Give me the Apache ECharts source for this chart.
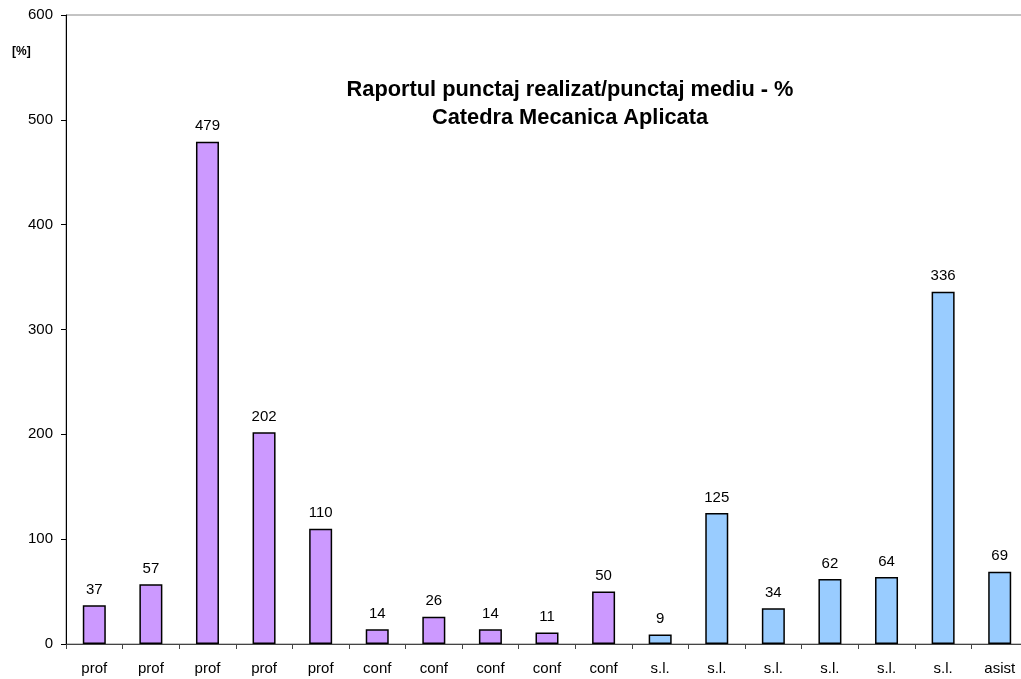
<!DOCTYPE html>
<html>
<head>
<meta charset="utf-8">
<script src="https://cdn.jsdelivr.net/npm/echarts@6/dist/echarts.min.js"></script>
<style>html,body{margin:0;padding:0;background:#fff;overflow:hidden}#c{width:1028px;height:679px}</style>
</head>
<body>
<div id="c"></div>
<script>
const categories = ['prof','prof','prof','prof','prof','conf','conf','conf','conf','conf','s.l.','s.l.','s.l.','s.l.','s.l.','s.l.','asist'];
const values = [37,57,479,202,110,14,26,14,11,50,9,125,34,62,64,336,69];
const yTicks = [0,100,200,300,400,500,600];
const titleLines = ['Raportul punctaj realizat/punctaj mediu - %','Catedra Mecanica Aplicata'];
const unitLabel = '[%]';

const purple = '#CC99FF', blue = '#99CCFF';
const FONT = 'Liberation Sans, Arial, sans-serif';
const chart = echarts.init(document.getElementById('c'), null, {renderer:'canvas'});
chart.setOption({
  animation:false,
  backgroundColor:'#fff',
  textStyle:{fontFamily:FONT},
  title:{
    text: titleLines.join('\n'),
    left: 565, top: 71, textAlign:'center',
    textStyle:{fontSize:21.8, fontWeight:'bold', color:'#000', lineHeight:28, fontFamily:FONT}
  },
  graphic:[{type:'text', left:12, top:46, style:{text:unitLabel, fontSize:12, fontWeight:'bold', fill:'#000', fontFamily:FONT}}],
  grid:{left:66, right:0, top:15, bottom:35, show:true, borderColor:'#888', borderWidth:1, backgroundColor:'transparent'},
  xAxis:{
    type:'category', data:categories,
    axisLine:{lineStyle:{color:'#444', width:1}},
    axisTick:{show:true, length:5, lineStyle:{color:'#444'}},
    axisLabel:{color:'#000', fontSize:15, margin:17, interval:0}
  },
  yAxis:{
    type:'value', min:0, max:600, interval:100,
    axisLine:{show:true, lineStyle:{color:'#000', width:1}},
    axisTick:{show:true, length:5, lineStyle:{color:'#000'}},
    axisLabel:{color:'#000', fontSize:15, margin:13, formatter:v=> yTicks.includes(v)? String(v):''},
    splitLine:{show:false}
  },
  series:[{
    type:'bar',
    data: values.map((v,i)=>({value:v, itemStyle:{color: i<10?purple:blue}})),
    barWidth:23,
    itemStyle:{borderColor:'#000', borderWidth:1.5},
    label:{show:true, position:'top', distance:8, color:'#000', fontSize:15}
  }]
});
</script>
</body>
</html>
